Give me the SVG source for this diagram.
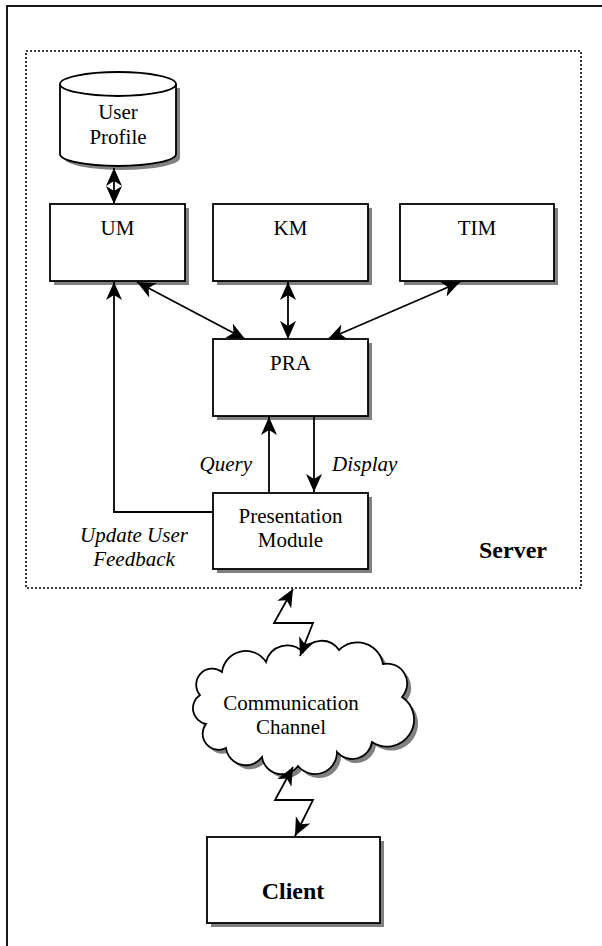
<svg xmlns="http://www.w3.org/2000/svg" width="602" height="946" viewBox="0 0 602 946">
<style>
.box{fill:#fff;stroke:#000;stroke-width:1.8}
.sh{fill:#808080;stroke:none}
.t{font-family:"Liberation Serif","Times New Roman",serif;font-size:21px;fill:#000;text-anchor:middle}
.it{font-style:italic}
.b{font-weight:bold;font-size:24px}
.c{fill:none;stroke:#000;stroke-width:1.8}
</style>
<defs>
<marker id="ah" markerUnits="userSpaceOnUse" markerWidth="20" markerHeight="18" refX="18" refY="8" orient="auto-start-reverse" viewBox="0 0 20 16">
<path d="M0,0 L18,8 L0,16 L5,8 Z" fill="#000"/>
</marker>
</defs>
<rect x="0" y="0" width="602" height="946" fill="#fff"/>
<rect x="7" y="6" width="600" height="945" fill="none" stroke="#000" stroke-width="1.8"/>
<g id="server">
<rect x="26" y="51" width="555" height="537" fill="none" stroke="#000" stroke-width="1.6" stroke-dasharray="2 2"/>
<text class="t b" x="513" y="558">Server</text>
</g>
<g id="user-profile">
<path class="sh" d="M64,88 L64,158 A58,12 0 0 0 180,158 L180,88 Z"/>
<path class="box" d="M60,84 L60,154 A58,12 0 0 0 176,154 L176,84"/>
<ellipse class="box" cx="118" cy="84" rx="58" ry="12"/>
<text class="t" x="118" y="119">User</text>
<text class="t" x="118" y="144">Profile</text>
</g>
<g id="um">
<rect class="sh" x="54" y="208" width="135" height="77"/>
<rect class="box" x="50" y="204" width="135" height="77"/>
<text class="t" x="117.5" y="235">UM</text>
</g>
<g id="km">
<rect class="sh" x="217" y="208" width="155" height="77"/>
<rect class="box" x="213" y="204" width="155" height="77"/>
<text class="t" x="290.5" y="235">KM</text>
</g>
<g id="tim">
<rect class="sh" x="404" y="208" width="154" height="77"/>
<rect class="box" x="400" y="204" width="154" height="77"/>
<text class="t" x="477" y="235">TIM</text>
</g>
<g id="pra">
<rect class="sh" x="217" y="343" width="155" height="77"/>
<rect class="box" x="213" y="339" width="155" height="77"/>
<text class="t" x="290.5" y="370">PRA</text>
</g>
<g id="presentation">
<rect class="sh" x="217" y="497" width="155" height="76"/>
<rect class="box" x="213" y="493" width="155" height="76"/>
<text class="t" x="290.5" y="523">Presentation</text>
<text class="t" x="290.5" y="547">Module</text>
</g>
<g id="channel">
<path class="sh" transform="translate(4,4)" d="M222,672 A24,24 0 0 1 266,662 A22,22 0 0 1 303,652 A21,21 0 0 1 339,650 A26,26 0 0 1 383,664 A20,20 0 0 1 402,697 A24,24 0 0 1 372,742 A20,20 0 0 1 337,752 A22,22 0 0 1 298,766 A20,20 0 0 1 262,757 A20,20 0 0 1 226,748 A16,16 0 0 1 206,724 A16,16 0 0 1 200,695 A16,16 0 0 1 222,672 Z"/>
<path class="box" d="M222,672 A24,24 0 0 1 266,662 A22,22 0 0 1 303,652 A21,21 0 0 1 339,650 A26,26 0 0 1 383,664 A20,20 0 0 1 402,697 A24,24 0 0 1 372,742 A20,20 0 0 1 337,752 A22,22 0 0 1 298,766 A20,20 0 0 1 262,757 A20,20 0 0 1 226,748 A16,16 0 0 1 206,724 A16,16 0 0 1 200,695 A16,16 0 0 1 222,672 Z"/>
<text class="t" x="291" y="710">Communication</text>
<text class="t" x="291" y="734">Channel</text>
</g>
<g id="client">
<rect class="sh" x="211" y="841" width="173" height="86"/>
<rect class="box" x="207" y="837" width="173" height="86"/>
<text class="t b" x="293" y="899">Client</text>
</g>
<g id="connectors">
<line class="c" x1="114" y1="168" x2="114" y2="204" marker-start="url(#ah)" marker-end="url(#ah)"/>
<line class="c" x1="137" y1="282" x2="245" y2="339" marker-start="url(#ah)" marker-end="url(#ah)"/>
<line class="c" x1="288" y1="282" x2="288" y2="339" marker-start="url(#ah)" marker-end="url(#ah)"/>
<line class="c" x1="460" y1="282" x2="328" y2="339" marker-start="url(#ah)" marker-end="url(#ah)"/>
<line class="c" x1="269" y1="493" x2="269" y2="417" marker-end="url(#ah)"/>
<line class="c" x1="314" y1="416" x2="314" y2="492" marker-end="url(#ah)"/>
<polyline class="c" points="213,512 114,512 114,282" marker-end="url(#ah)"/>
<polyline class="c" points="293,589 274,623 313,623 300,656" marker-start="url(#ah)" marker-end="url(#ah)"/>
<polyline class="c" points="293,767 275,800 313,800 295,836" marker-start="url(#ah)" marker-end="url(#ah)"/>
<text class="t it" x="252" y="471" style="text-anchor:end">Query</text>
<text class="t it" x="332" y="471" style="text-anchor:start">Display</text>
<text class="t it" x="134" y="542">Update User</text>
<text class="t it" x="134" y="566">Feedback</text>
</g>
</svg>
